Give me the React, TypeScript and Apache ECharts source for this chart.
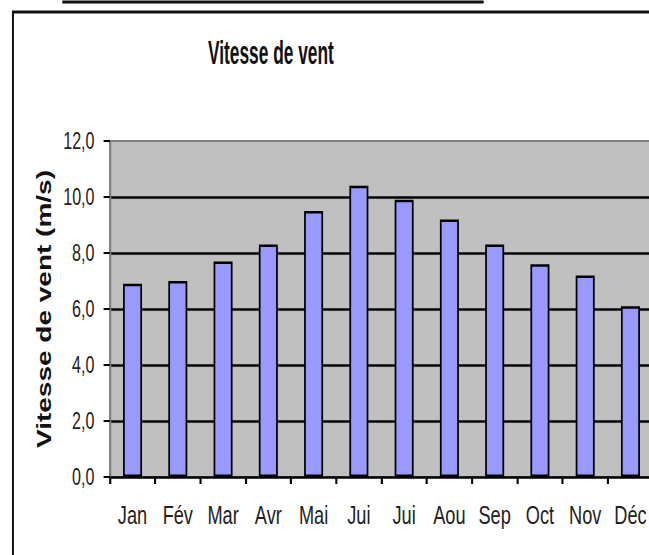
import React, { useEffect, useRef } from "react";
import * as echarts from "echarts";

const months = ["Jan", "Fév", "Mar", "Avr", "Mai", "Jui", "Jui", "Aou", "Sep", "Oct", "Nov", "Déc"];
const windSpeed = [6.9, 7.0, 7.7, 8.3, 9.5, 10.4, 9.9, 9.2, 8.3, 7.6, 7.2, 6.1];
const chartTitle = "Vitesse de vent";
const yAxisTitle = "Vitesse de vent (m/s)";
const yMin = 0;
const yMax = 12;
const yStep = 2;

// The reference picture is horizontally condensed; the chart is drawn wider
// and squeezed by this factor, then clipped to the page.
const SX = 0.7;
const W = 980;
const H = 555;
const FONT = "'Liberation Sans', Arial, sans-serif";

export default function App() {
  const ref = useRef<HTMLDivElement>(null);

  useEffect(() => {
    document.documentElement.style.overflow = "hidden";
    document.body.style.overflow = "hidden";
    if (!ref.current) return;
    const chart = echarts.init(ref.current, undefined, { renderer: "svg" });
    chart.setOption({
      animation: false,
      backgroundColor: "#ffffff",
      graphic: [
        {
          type: "polyline",
          z: -10,
          shape: { points: [[18.5, 800], [18.5, 12], [W + 50, 12]] },
          style: { fill: null, stroke: "#111", lineWidth: 2.8 },
        },
        {
          type: "line",
          shape: { x1: 89, y1: 2, x2: 691, y2: 2 },
          style: { stroke: "#111", lineWidth: 3 },
        },
        {
          type: "text",
          x: 387,
          y: 36,
          scaleX: 0.75,
          style: {
            text: chartTitle,
            font: "bold 33px 'Liberation Sans', Arial, sans-serif",
            fill: "#111",
            textAlign: "center",
            textVerticalAlign: "top",
          },
        },
      ],
      grid: {
        left: 157,
        top: 141,
        right: W - 933,
        bottom: H - 477,
        show: true,
        backgroundColor: "#c0c0c0",
        borderColor: "#808080",
        borderWidth: 2,
      },
      xAxis: {
        type: "category",
        data: months,
        boundaryGap: true,
        axisLine: { show: true, lineStyle: { color: "#000", width: 2.5 } },
        axisTick: { show: true, alignWithLabel: false, length: 7, lineStyle: { color: "#000", width: 3 } },
        axisLabel: { interval: 0, margin: 25, fontFamily: FONT, fontSize: 26, color: "#222" },
        splitLine: { show: false },
      },
      yAxis: {
        type: "value",
        min: yMin,
        max: yMax,
        interval: yStep,
        name: yAxisTitle,
        nameLocation: "middle",
        nameGap: 80,
        nameTextStyle: { fontFamily: FONT, fontSize: 28, fontWeight: "bold", color: "#111" },
        axisLine: { show: true, lineStyle: { color: "#808080", width: 3 } },
        axisTick: { show: true, inside: false, length: 9, lineStyle: { color: "#000", width: 2 } },
        axisLabel: {
          margin: 22,
          fontFamily: FONT,
          fontSize: 23,
          color: "#222",
          formatter: (v: number) => v.toFixed(1).replace(".", ","),
        },
        splitLine: {
          show: true,
          showMinLine: false,
          showMaxLine: false,
          lineStyle: { color: "#000", width: 2.5 },
        },
      },
      series: [
        {
          type: "bar",
          data: windSpeed,
          barWidth: "42%",
          itemStyle: { color: "#9999ff", borderColor: "#000", borderWidth: 2.5 },
        },
      ],
    });
    return () => chart.dispose();
  }, []);

  return (
    <div
      style={{
        position: "fixed",
        left: 0,
        top: 0,
        width: 649,
        height: H,
        overflow: "hidden",
        background: "#ffffff",
      }}
    >
      <div
        ref={ref}
        style={{
          width: W,
          height: H,
          transform: `scaleX(${SX})`,
          transformOrigin: "0 0",
        }}
      />
    </div>
  );
}
